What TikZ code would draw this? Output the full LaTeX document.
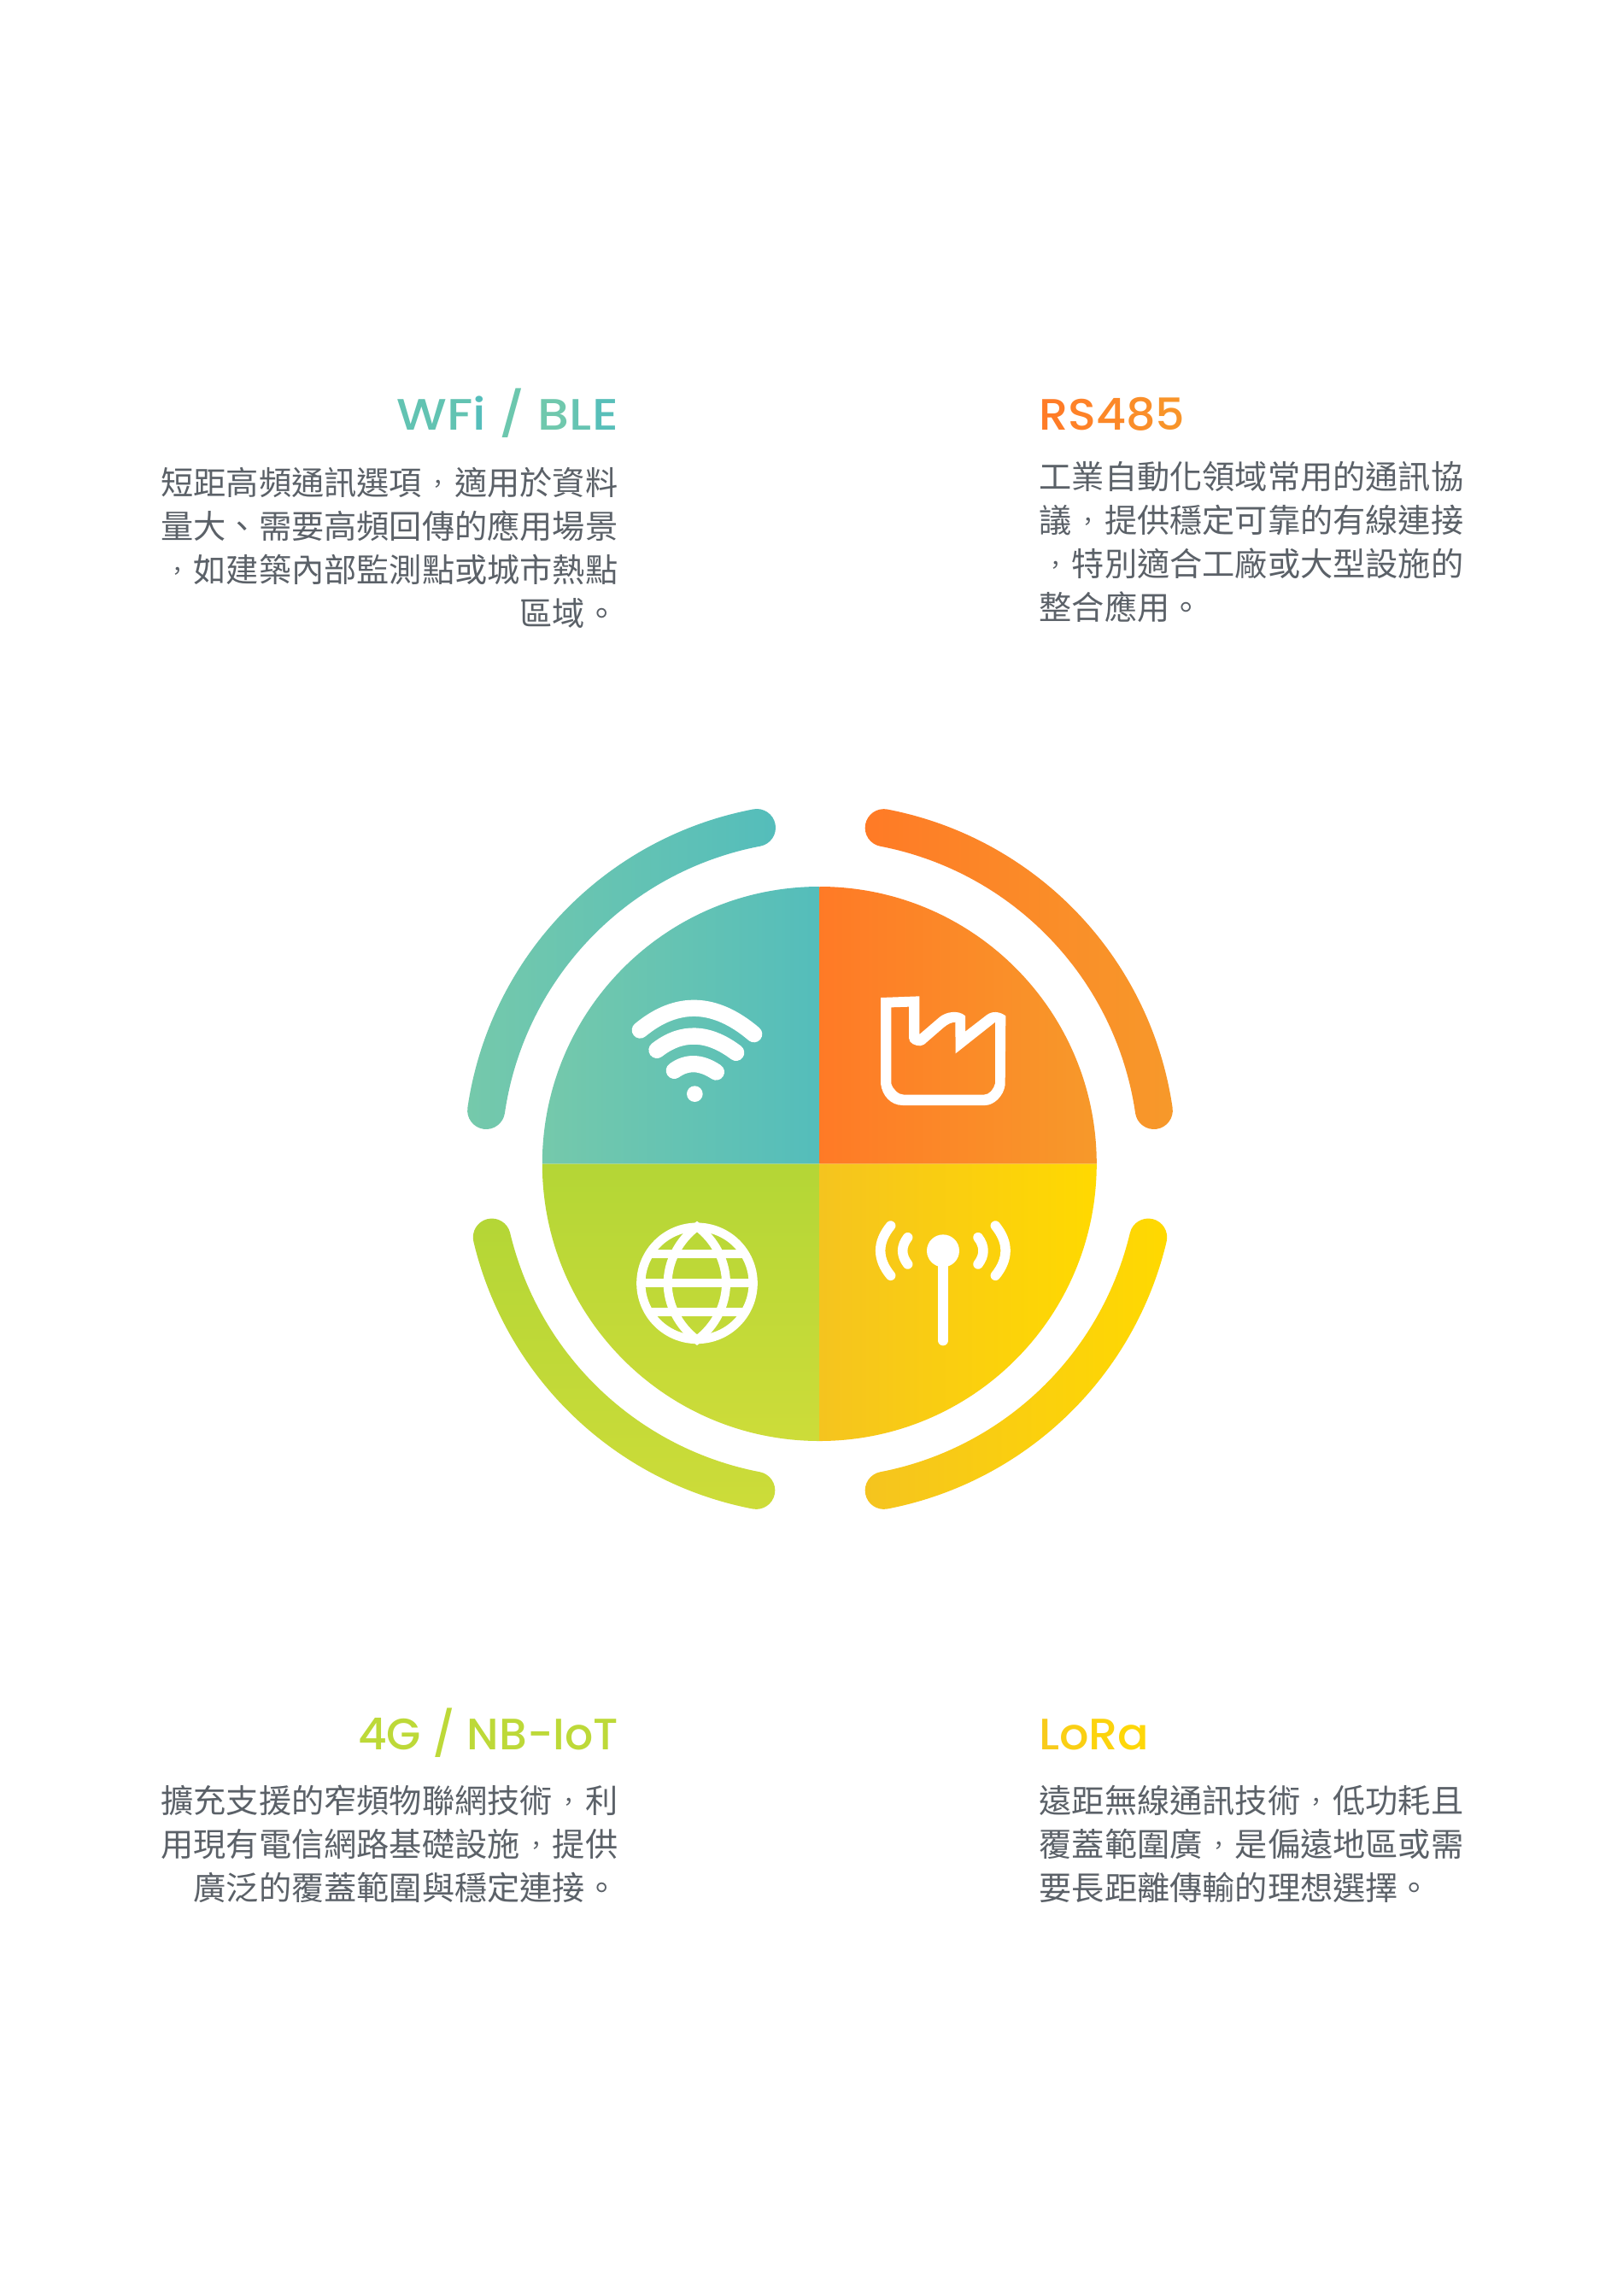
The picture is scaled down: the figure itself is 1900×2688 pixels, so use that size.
\documentclass[tikz,border=0pt]{standalone}
\usepackage{fontspec}
\newfontfamily\cjkfont{Noto Sans CJK TC}
\newfontfamily\headfont[FakeStretch=1.05]{Poppins Medium}
\newfontfamily\headwide[FakeStretch=1.14]{Poppins Medium}
\newfontfamily\headplain[FakeStretch=1.01]{Poppins Medium}
\definecolor{tealL}{HTML}{75C9AB}
\definecolor{tealR}{HTML}{54BDBB}
\definecolor{orgL}{HTML}{FF7A26}
\definecolor{orgR}{HTML}{F7992A}
\definecolor{ylwL}{HTML}{F5C41F}
\definecolor{ylwR}{HTML}{FFD900}
\definecolor{grnT}{HTML}{B4D636}
\definecolor{grnB}{HTML}{CDDC39}
\definecolor{bodygrey}{HTML}{5B6168}
\newcommand{\ringarc}[2]{%
  (#1:417pt) arc[start angle=#1,end angle=#2,radius=417pt]
  arc[start angle=#2,end angle=#2-180,radius=22pt]
  arc[start angle=#2,end angle=#1,radius=373pt]
  arc[start angle=#1+180,end angle=#1,radius=22pt] -- cycle}
\newcommand{\gc}[2]{\textcolor[HTML]{#1}{#2}}
\newcommand{\cmma}{\makebox[1em]{\raisebox{0.08em}{\fontsize{27}{30}\selectfont ，}}}
\tikzset{
  bodyL/.style={anchor=north east,inner sep=0pt,align=right,text=bodygrey,font=\cjkfont\fontsize{38.2}{51}\selectfont},
  bodyR/.style={anchor=north west,inner sep=0pt,align=left,text=bodygrey,font=\cjkfont\fontsize{38.2}{51}\selectfont},
  headL/.style={anchor=base east,inner sep=0pt,font=\headfont\fontsize{51.5}{55}\selectfont},
  headR/.style={anchor=base west,inner sep=0pt,font=\headfont\fontsize{51.5}{55}\selectfont},
  iconline/.style={draw=white,line cap=round,line join=round}
}
\begin{document}
\begin{tikzpicture}[x=1pt,y=-1pt]
\useasboundingbox (0,0) rectangle (1900,2688);
\fill[white] (0,0) rectangle (1900,2688);

% centre disc
\begin{scope}[shift={(959.3,1362.5)},x=1pt,y=1pt]
  \shade[left color=tealL,right color=tealR] (0,0) -- (180:324.5pt) arc[start angle=180,end angle=90,radius=324.5pt] -- cycle;
  \shade[left color=orgL,right color=orgR] (0,0) -- (90:324.5pt) arc[start angle=90,end angle=0,radius=324.5pt] -- cycle;
  \shade[top color=grnT,bottom color=grnB] (0,0) -- (270:324.5pt) arc[start angle=270,end angle=180,radius=324.5pt] -- cycle;
  \shade[left color=ylwL,right color=ylwR] (0,0) -- (0:324.5pt) arc[start angle=0,end angle=-90,radius=324.5pt] -- cycle;
\end{scope}

% outer ring
\begin{scope}[shift={(960,1357)},x=1pt,y=1pt]
  \shade[left color=tealL,right color=tealR] \ringarc{171.7}{100.8};
  \shade[left color=orgL,right color=orgR] \ringarc{79.1}{8.3};
  \shade[top color=grnT,bottom color=grnB] \ringarc{259.1}{193.4};
  \shade[left color=ylwL,right color=ylwR] \ringarc{-13.4}{-79.1};
\end{scope}

% wifi icon
\begin{scope}[shift={(620,1100)},x=0.33333pt,y=-0.33333pt]
  \draw[iconline,line width=19.3pt] (388,318) .. controls (517,211) and (651,215) .. (788,332);
  \draw[iconline,line width=19.3pt] (447,388) .. controls (534,320) and (627,323) .. (725,397);
  \draw[iconline,line width=19.3pt] (508,460) .. controls (552,428) and (601,429) .. (655,465);
  \fill[white] (580,542) circle[radius=28];
\end{scope}

% factory icon
\begin{scope}[shift={(990,1100)},x=0.33333pt,y=-0.33333pt]
  \fill[white,even odd rule]
    (123,204) -- (259,199) -- (259,333) -- (330,272) .. controls (350,255) and (395,245) .. (420,268)
    -- (420,323) -- (495,265) .. controls (515,250) and (540,252) .. (562,268)
    -- (560,510) .. controls (555,550) and (520,582) .. (490,582)
    -- (200,582) .. controls (160,582) and (128,550) .. (123,505) -- cycle
    (160,238) -- (222,236) -- (222,345) .. controls (222,365) and (245,373) .. (262,373)
    .. controls (272,373) and (280,365) .. (285,360) -- (345,308) .. controls (360,295) and (375,290) .. (385,290)
    -- (386,400) -- (525,290) -- (525,505) .. controls (520,525) and (505,545) .. (485,545)
    -- (205,545) .. controls (185,545) and (165,525) .. (160,505) -- cycle;
\end{scope}

% globe icon
\begin{scope}[shift={(620,1400)},x=0.33333pt,y=-0.33333pt]
  \begin{scope}
    \clip (588,307) circle[radius=200];
    \draw[white,line width=10pt] (380,307) -- (796,307);
    \draw[white,line width=10pt] (380,205) -- (796,205);
    \draw[white,line width=10pt] (380,408) -- (796,408);
  \end{scope}
  \draw[white,line width=10pt,miter limit=10]
    (588,108) .. controls (525,155) and (485,230) .. (485,307) .. controls (485,384) and (525,459) .. (588,506)
    .. controls (651,459) and (690,384) .. (690,307) .. controls (690,230) and (651,155) .. (588,108) -- cycle;
  \draw[white,line width=10.3pt] (588,307) circle[radius=197];
\end{scope}

% antenna icon
\begin{scope}[shift={(990,1400)},x=0.33333pt,y=-0.33333pt]
  \fill[white] (342,193) circle[radius=57];
  \draw[iconline,line width=12pt] (342,193) -- (342,508);
  \draw[iconline,line width=11.5pt] (158,105) .. controls (110,163) and (110,222) .. (158,280);
  \draw[iconline,line width=11.5pt] (218,146) .. controls (194,177) and (194,209) .. (218,240);
  \draw[iconline,line width=11.5pt] (465,146) .. controls (489,177) and (489,209) .. (465,240);
  \draw[iconline,line width=11.5pt] (526,105) .. controls (573,163) and (573,222) .. (526,280);
\end{scope}

% headings
\node[headL,font=\headwide\fontsize{51.5}{55}\selectfont] (hwifi) at (724,503) {\gc{62C3B2}{W}\gc{62C3B2}{F}\gc{55BEBB}{i} \gc{6CC7AE}{/} \gc{70C8AD}{B}\gc{66C4B2}{L}\gc{58BFB9}{E}};
\node[headR] (hrs) at (1216,503) {\gc{FF7C27}{R}\gc{FE8228}{S}\gc{FC8828}{4}\gc{FA8E29}{8}\gc{F89429}{5}};
\node[headL,font=\headplain\fontsize{51.5}{55}\selectfont] (hnb) at (724,2048) {\gc{BDD938}{4G / NB-IoT}};
\node[headR] (hlora) at (1216,2048) {\gc{F8CB1B}{L}\gc{FACF14}{o}\gc{FCD30D}{R}\gc{FED708}{a}};

% body texts
\node[bodyL] (bwifi) at (723.5,547) {短距高頻通訊選項\cmma 適用於資料\\量大、需要高頻回傳的應用場景\\\cmma 如建築內部監測點或城市熱點\\區域。};
\node[bodyR] (brs) at (1216.5,540) {工業自動化領域常用的通訊協\\議\cmma 提供穩定可靠的有線連接\\\cmma 特別適合工廠或大型設施的\\整合應用。};
\node[bodyL] (bnb) at (723.5,2090) {擴充支援的窄頻物聯網技術\cmma 利\\用現有電信網路基礎設施\cmma 提供\\廣泛的覆蓋範圍與穩定連接。};
\node[bodyR] (blora) at (1216.5,2090) {遠距無線通訊技術\cmma 低功耗且\\覆蓋範圍廣\cmma 是偏遠地區或需\\要長距離傳輸的理想選擇。};
\end{tikzpicture}
\end{document}
